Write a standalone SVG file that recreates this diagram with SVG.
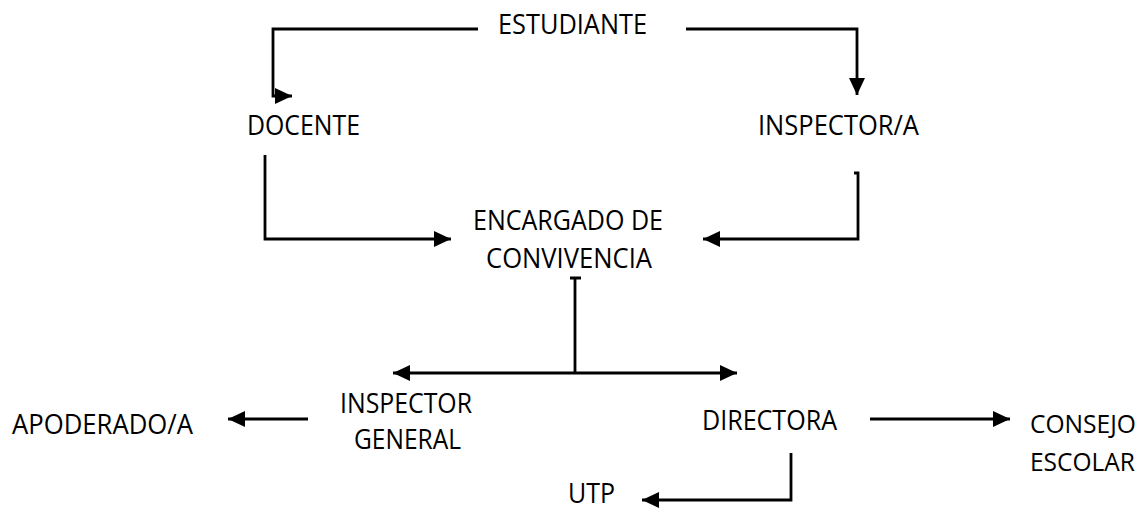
<svg xmlns="http://www.w3.org/2000/svg" width="1142" height="510" viewBox="0 0 1142 510">
<style>
.t{font-family:"Open Sans","Liberation Sans",sans-serif;font-size:27px;fill:#000}
.s{font-size:25px}
.c{fill:none;stroke:#000;stroke-width:2.8}
</style>
<defs>
<marker id="ah" markerUnits="userSpaceOnUse" markerWidth="18" markerHeight="16" refX="17" refY="8" orient="auto-start-reverse">
<path d="M0,0 L17,8 L0,16 z" fill="#000"/>
</marker>
</defs>
<rect width="1142" height="510" fill="#fff"/>
<g id="connectors">
<path class="c" d="M478,29 H273 V96 H292" marker-end="url(#ah)"/>
<path class="c" d="M686,29 H857 V95" marker-end="url(#ah)"/>
<path class="c" d="M265,155 V239 H451" marker-end="url(#ah)"/>
<path class="c" d="M854,173 H858 V239 H703" marker-end="url(#ah)"/>
<path class="c" d="M570,278 H581 M575,278 V373"/>
<path class="c" d="M393,373 H737" marker-start="url(#ah)" marker-end="url(#ah)"/>
<path class="c" d="M308,419 H228" marker-end="url(#ah)"/>
<path class="c" d="M870,419 H1010" marker-end="url(#ah)"/>
<path class="c" d="M791,453 V500 H642" marker-end="url(#ah)"/>
</g>
<g id="estudiante"><text class="t" x="498" y="34" textLength="149" lengthAdjust="spacingAndGlyphs">ESTUDIANTE</text></g>
<g id="docente"><text class="t" x="247" y="135" textLength="113" lengthAdjust="spacingAndGlyphs">DOCENTE</text></g>
<g id="inspector"><text class="t" x="758" y="135" textLength="161" lengthAdjust="spacingAndGlyphs">INSPECTOR/A</text></g>
<g id="encargado">
<text class="t" x="473" y="230" textLength="190" lengthAdjust="spacingAndGlyphs">ENCARGADO DE</text>
<text class="t" x="486" y="268" textLength="166" lengthAdjust="spacingAndGlyphs">CONVIVENCIA</text>
</g>
<g id="inspector-general">
<text class="t" x="340" y="413" textLength="132" lengthAdjust="spacingAndGlyphs">INSPECTOR</text>
<text class="t" x="354" y="449" textLength="107" lengthAdjust="spacingAndGlyphs">GENERAL</text>
</g>
<g id="apoderado"><text class="t" x="12" y="434" textLength="181" lengthAdjust="spacingAndGlyphs">APODERADO/A</text></g>
<g id="directora"><text class="t" x="702" y="430" textLength="135" lengthAdjust="spacingAndGlyphs">DIRECTORA</text></g>
<g id="consejo">
<text class="t s" x="1030" y="433" textLength="106" lengthAdjust="spacingAndGlyphs">CONSEJO</text>
<text class="t s" x="1030" y="471" textLength="105" lengthAdjust="spacingAndGlyphs">ESCOLAR</text>
</g>
<g id="utp"><text class="t" x="568" y="503" textLength="47" lengthAdjust="spacingAndGlyphs">UTP</text></g>
</svg>
